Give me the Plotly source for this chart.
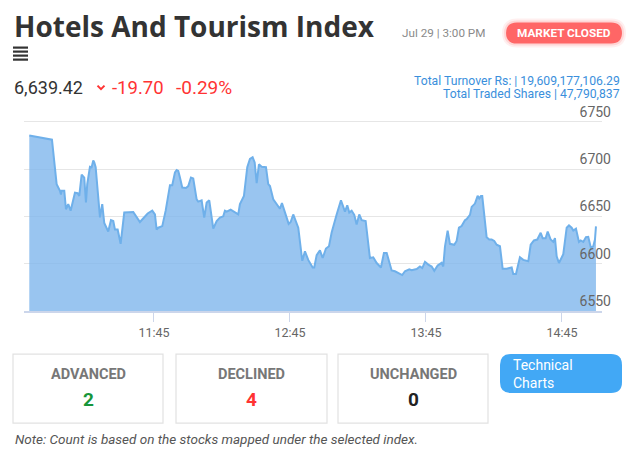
import plotly.graph_objects as go

# ---------------- data ----------------
trade_date = "2024-07-29"
times = [
    "10:50:00", "11:00:00", "11:02:04", "11:03:32", "11:03:58", "11:04:17", "11:05:26", "11:06:11",
    "11:07:11", "11:08:15", "11:10:09", "11:11:20", "11:12:03", "11:13:06", "11:14:15", "11:15:00",
    "11:15:34", "11:16:46", "11:17:31", "11:18:13", "11:18:40", "11:19:17", "11:21:11", "11:22:11",
    "11:23:04", "11:24:50", "11:26:02", "11:27:03", "11:27:48", "11:28:59", "11:30:18", "11:31:54",
    "11:35:52", "11:38:49", "11:42:13", "11:44:15", "11:45:26", "11:46:11", "11:46:54", "11:48:40",
    "11:50:10", "11:52:04", "11:53:04", "11:54:16", "11:55:01", "11:55:43", "11:56:28", "11:57:29",
    "11:59:07", "12:00:08", "12:01:19", "12:02:20", "12:03:50", "12:04:32", "12:06:02", "12:07:11",
    "12:08:15", "12:09:24", "12:11:10", "12:12:40", "12:14:07", "12:15:34", "12:16:19", "12:17:04",
    "12:18:50", "12:19:59", "12:22:11", "12:22:56", "12:24:42", "12:26:10", "12:27:21", "12:28:32",
    "12:29:26", "12:30:19", "12:31:19", "12:32:31", "12:34:25", "12:35:26", "12:36:11", "12:37:38",
    "12:39:08", "12:40:35", "12:41:28", "12:42:47", "12:44:26", "12:45:19", "12:46:27", "12:48:40",
    "12:50:26", "12:51:37", "12:53:04", "12:55:01", "12:55:43", "12:56:47", "12:58:14", "12:59:26",
    "13:00:53", "13:02:13", "13:03:24", "13:05:36", "13:07:30", "13:09:16", "13:10:17", "13:11:10",
    "13:12:13", "13:13:22", "13:14:25", "13:15:34", "13:16:38", "13:18:24", "13:20:17", "13:21:45",
    "13:23:15", "13:25:09", "13:26:28", "13:27:40", "13:28:41", "13:29:52", "13:31:19", "13:32:47",
    "13:34:32", "13:35:44", "13:37:38", "13:38:41", "13:40:54", "13:42:21", "13:43:22", "13:44:34",
    "13:46:01", "13:47:31", "13:48:40", "13:50:10", "13:51:55", "13:52:38", "13:53:23", "13:54:34",
    "13:55:35", "13:57:29", "13:58:32", "13:59:33", "14:00:44", "14:02:12", "14:02:57", "14:04:25",
    "14:05:10", "14:06:37", "14:07:48", "14:08:31", "14:09:16", "14:09:50", "14:11:46", "14:12:55",
    "14:13:59", "14:15:08", "14:16:11", "14:17:39", "14:18:50", "14:20:36", "14:21:45", "14:22:49",
    "14:23:31", "14:24:43", "14:26:28", "14:27:56", "14:30:08", "14:31:12", "14:32:39", "14:34:07",
    "14:35:37", "14:36:29", "14:37:49", "14:38:42", "14:40:01", "14:41:10", "14:41:55", "14:42:40",
    "14:43:41", "14:45:35", "14:47:05", "14:48:06", "14:49:17", "14:50:00", "14:51:11", "14:52:30",
    "14:53:15", "14:54:24", "14:55:35", "14:56:36", "14:57:47", "14:58:49", "14:59:34", "15:00:00",
]
index_values = [
    6735.4, 6731.0, 6684.0, 6677.0, 6673.0, 6677.0, 6677.0, 6657.5,
    6663.0, 6656.0, 6675.0, 6674.5, 6671.6, 6694.0, 6691.0, 6664.6,
    6684.0, 6702.5, 6702.0, 6709.0, 6707.0, 6702.0, 6649.0, 6663.0,
    6643.0, 6634.0, 6646.0, 6645.0, 6636.0, 6636.0, 6621.0, 6654.0,
    6654.6, 6644.0, 6653.0, 6656.0, 6652.0, 6636.0, 6638.0, 6639.7,
    6656.0, 6683.0, 6683.0, 6696.5, 6699.0, 6698.0, 6691.0, 6680.5,
    6680.0, 6682.0, 6691.0, 6690.0, 6668.0, 6665.6, 6667.0, 6648.6,
    6664.6, 6667.0, 6637.0, 6645.0, 6648.6, 6650.0, 6656.0, 6655.0,
    6657.0, 6655.0, 6652.0, 6663.0, 6671.6, 6702.0, 6710.6, 6712.4,
    6707.0, 6685.0, 6705.0, 6702.5, 6702.0, 6684.0, 6682.0, 6668.0,
    6663.0, 6658.0, 6664.0, 6654.0, 6642.0, 6644.0, 6652.0, 6638.0,
    6603.0, 6613.0, 6604.0, 6596.0, 6596.0, 6609.0, 6614.0, 6606.0,
    6616.0, 6618.4, 6633.0, 6652.0, 6667.0, 6655.0, 6661.7, 6654.0,
    6656.0, 6651.6, 6641.5, 6652.0, 6646.0, 6645.0, 6606.0, 6606.7,
    6600.7, 6596.0, 6611.4, 6611.4, 6604.0, 6592.9, 6592.0, 6590.0,
    6588.0, 6592.0, 6594.0, 6593.0, 6594.4, 6597.0, 6595.4, 6602.0,
    6599.0, 6597.0, 6592.5, 6598.0, 6601.0, 6597.0, 6618.0, 6635.0,
    6621.0, 6620.0, 6624.0, 6638.0, 6639.7, 6646.0, 6647.0, 6651.6,
    6660.0, 6663.5, 6671.6, 6669.0, 6671.6, 6671.6, 6628.0, 6625.5,
    6625.5, 6624.0, 6620.0, 6618.4, 6594.7, 6594.7, 6595.4, 6596.0,
    6589.0, 6589.0, 6606.7, 6604.0, 6602.5, 6620.0, 6624.5, 6625.5,
    6632.6, 6627.0, 6627.0, 6634.0, 6625.5, 6623.0, 6627.0, 6607.8,
    6600.7, 6610.0, 6638.0, 6640.4, 6638.0, 6635.0, 6637.0, 6623.0,
    6624.5, 6623.0, 6628.0, 6628.4, 6616.7, 6618.4, 6625.5, 6639.42,
]
x_tick_times = ["11:45", "12:45", "13:45", "14:45"]
y_tick_values = [6550, 6600, 6650, 6700, 6750]
x_range_times = ["10:47:40", "15:02:40"]

title_text = "Hotels And Tourism Index"
timestamp_text = "Jul 29 | 3:00 PM"
status_text = "MARKET CLOSED"
last_value_text = "6,639.42"
change_text = "-19.70"
change_pct_text = "-0.29%"
turnover_text = "Total Turnover Rs: | 19,609,177,106.29"
shares_text = "Total Traded Shares | 47,790,837"
breadth_labels = ["ADVANCED", "DECLINED", "UNCHANGED"]
breadth_counts = [2, 4, 0]
breadth_colors = ["#16963a", "#ff3333", "#222222"]
button_text = "Technical<br>Charts"
note_text = "Note: Count is based on the stocks mapped under the selected index."

# ---------------- layout helpers (reference pixel -> paper) ----------------
PAGE_W, PAGE_H = 635, 450
BODY_MARGIN = 8                      # default page margin around the plot div
Y_TOP_PAD = 24                       # axis headroom above the top gridline (value units)
L, R, B = 24, 602, 311               # plot-area edges in page pixels
GRID_TOP_PX = 122                    # pixel row of the top gridline
y_lo, y_hi = y_tick_values[0], y_tick_values[-1] + Y_TOP_PAD
T = B - (y_hi - y_lo) * (B - GRID_TOP_PX) / (y_tick_values[-1] - y_tick_values[0])


def px(x):
    return (x - L) / (R - L)


def py(y):
    return (B - y) / (B - T)


def rrect(x0, y0, x1, y1, r):
    X0, X1, Y0, Y1 = px(x0), px(x1), py(y0), py(y1)
    rx = r / (R - L)
    ry = r / (B - T)
    return (f"M {X0+rx},{Y0} L {X1-rx},{Y0} Q {X1},{Y0} {X1},{Y0-ry} "
            f"L {X1},{Y1+ry} Q {X1},{Y1} {X1-rx},{Y1} L {X0+rx},{Y1} "
            f"Q {X0},{Y1} {X0},{Y1+ry} L {X0},{Y0-ry} Q {X0},{Y0} {X0+rx},{Y0} Z")


FONT = "Roboto"
TITLE_FONT = "Open Sans"
xs = [f"{trade_date} {t}" for t in times]

fig = go.Figure()
fig.add_trace(go.Scatter(
    x=xs, y=index_values, mode="lines",
    line=dict(color="#6fb0ea", width=2),
    fill="tozeroy", fillcolor="rgba(124,181,236,0.78)",
    hoverinfo="x+y", showlegend=False,
))

shapes = []
annotations = []

# hamburger icon
for yy in [48, 52, 56, 60]:
    shapes.append(dict(type="line", xref="paper", yref="paper",
                       x0=px(13), x1=px(28), y0=py(yy), y1=py(yy),
                       line=dict(color="#333333", width=2.2)))

# chevron
shapes.append(dict(type="path", xref="paper", yref="paper",
                   path=f"M {px(97.5)},{py(86)} L {px(101)},{py(89.5)} L {px(104.5)},{py(86)}",
                   line=dict(color="#ff3333", width=2)))

# market closed badge with glow
for grow, alpha in [(4, 0.10), (2, 0.18)]:
    shapes.append(dict(type="path", xref="paper", yref="paper",
                       path=rrect(506 - grow, 23 - grow, 622 + grow, 44 + grow, 11 + grow),
                       fillcolor=f"rgba(255,102,102,{alpha})", line=dict(width=0)))
shapes.append(dict(type="path", xref="paper", yref="paper",
                   path=rrect(506, 23, 622, 44, 11),
                   fillcolor="#ff6666", line=dict(width=0)))

# breadth boxes
box_x = [(13, 163), (176, 327), (338, 488)]
for (bx0, bx1), lab, cnt, col in zip(box_x, breadth_labels, breadth_counts, breadth_colors):
    shapes.append(dict(type="rect", xref="paper", yref="paper",
                       x0=px(bx0), x1=px(bx1), y0=py(354), y1=py(423),
                       line=dict(color="#e2e2e2", width=1.2), fillcolor="rgba(0,0,0,0)"))
    cx = (bx0 + bx1) / 2
    annotations.append(dict(xref="paper", yref="paper", x=px(cx), y=py(374),
                            xanchor="center", yanchor="middle", showarrow=False,
                            text=f"<b>{lab}</b>", font=dict(family=FONT, size=14.5, color="#777777")))
    annotations.append(dict(xref="paper", yref="paper", x=px(cx), y=py(399),
                            xanchor="center", yanchor="middle", showarrow=False,
                            text=f"<b>{cnt}</b>", font=dict(family=FONT, size=19, color=col)))

# technical charts button
shapes.append(dict(type="path", xref="paper", yref="paper",
                   path=rrect(500, 354, 622, 393, 11),
                   fillcolor="#42a8f5", line=dict(width=0)))
annotations.append(dict(xref="paper", yref="paper", x=px(511), y=py(374),
                        xanchor="left", yanchor="middle", align="left", showarrow=False,
                        text=button_text, font=dict(family=FONT, size=14, color="white")))

# header texts
annotations += [
    dict(xref="paper", yref="paper", x=px(12), y=py(26), xanchor="left", yanchor="middle",
         showarrow=False, text=f"<b>{title_text}</b>",
         font=dict(family=TITLE_FONT, size=28, color="#333333")),
    dict(xref="paper", yref="paper", x=px(400), y=py(33), xanchor="left", yanchor="middle",
         showarrow=False, text=timestamp_text, font=dict(family=FONT, size=11.7, color="#8a8a8a")),
    dict(xref="paper", yref="paper", x=px(564), y=py(33.5), xanchor="center", yanchor="middle",
         showarrow=False, text=f"<b>{status_text}</b>", font=dict(family=FONT, size=11.8, color="white")),
    dict(xref="paper", yref="paper", x=px(12), y=py(88), xanchor="left", yanchor="middle",
         showarrow=False, text=last_value_text, font=dict(family=FONT, size=18, color="#333333")),
    dict(xref="paper", yref="paper", x=px(110), y=py(88), xanchor="left", yanchor="middle",
         showarrow=False, text=change_text, font=dict(family=FONT, size=18.5, color="#ff3333")),
    dict(xref="paper", yref="paper", x=px(174), y=py(88), xanchor="left", yanchor="middle",
         showarrow=False, text=change_pct_text, font=dict(family=FONT, size=19, color="#ff3333")),
    dict(xref="paper", yref="paper", x=px(622), y=py(81), xanchor="right", yanchor="middle",
         showarrow=False, text=turnover_text, font=dict(family=FONT, size=12.2, color="#3a8fdc")),
    dict(xref="paper", yref="paper", x=px(622), y=py(94.5), xanchor="right", yanchor="middle",
         showarrow=False, text=shares_text, font=dict(family=FONT, size=12.2, color="#3a8fdc")),
    dict(xref="paper", yref="paper", x=px(13), y=py(439), xanchor="left", yanchor="middle",
         showarrow=False, text=f"<i>{note_text}</i>", font=dict(family=FONT, size=13.5, color="#555555")),
]

fig_w = PAGE_W - BODY_MARGIN
fig_h = PAGE_H - BODY_MARGIN
fig.update_layout(
    width=fig_w, height=fig_h,
    margin=dict(l=L - BODY_MARGIN, r=PAGE_W - R, t=T - BODY_MARGIN, b=PAGE_H - B, pad=0),
    paper_bgcolor="white", plot_bgcolor="white",
    shapes=shapes, annotations=annotations,
    font=dict(family=FONT, color="#666666"),
    xaxis=dict(
        type="date",
        range=[f"{trade_date} {x_range_times[0]}", f"{trade_date} {x_range_times[1]}"],
        tickvals=[f"{trade_date} {t}" for t in x_tick_times],
        ticktext=x_tick_times,
        showgrid=False, zeroline=False,
        showline=True, linecolor="#ccd6eb", linewidth=1.5,
        ticks="outside", ticklen=9, tickcolor="#ccd6eb", tickwidth=1,
        tickfont=dict(family=FONT, size=12.5, color="#666666"),
    ),
    yaxis=dict(
        range=[y_lo, y_hi],
        tickvals=y_tick_values,
        side="right",
        ticklabelposition="inside top",
        ticklabelstandoff=-12,
        showgrid=True, gridcolor="#e6e6e6", gridwidth=1,
        zeroline=False, showline=False, ticks="",
        tickfont=dict(family=FONT, size=14, color="#666666"),
    ),
)

fig.write_html("out.html")
